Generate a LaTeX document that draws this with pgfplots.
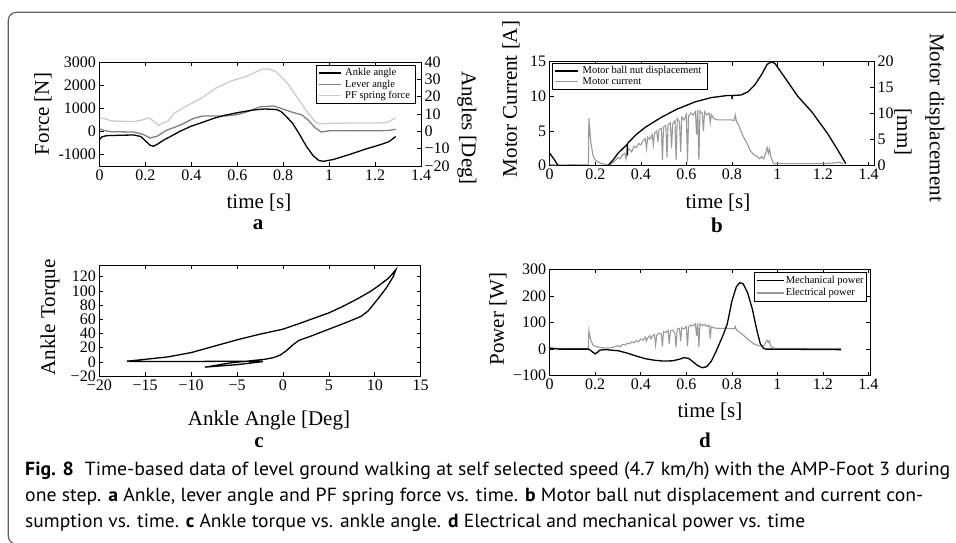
\documentclass[border=0pt]{standalone}
\usepackage{fontspec}
\setmainfont{Liberation Serif}
\newfontfamily\capfont{PT Sans}
\usepackage{graphicx}
\usepackage{pgfplots}
\pgfplotsset{compat=1.18}

\definecolor{lever}{gray}{0.50}
\definecolor{pfforce}{gray}{0.80}
\definecolor{curr}{gray}{0.60}
\definecolor{framegray}{gray}{0.38}

\pgfplotsset{
  every axis/.append style={
    scale only axis,
    anchor=south west,
    /pgf/number format/assume math mode=true,
    tick label style={font=\fontsize{16}{16}\selectfont},
    axis line style={line width=0.8pt},
    every tick/.style={black, line width=0.6pt},
    major tick length=4pt,
    tick align=inside,
    legend image code/.code={\draw[#1] (0pt,0pt) -- (22pt,0pt);},
  },
  mylegend/.style={
    legend cell align=left,
    legend style={draw=black, line width=0.8pt, fill=white, inner sep=1.5pt,
      row sep=-2pt, font=\fontsize{#1}{#1}\selectfont},
  },
  pl/.style={line width=1.3pt},
}
\newcommand{\lab}{\fontsize{21}{21}\selectfont}
\newcommand{\capsize}{\capfont\fontsize{19}{19}\selectfont}

\begin{document}
\begin{tikzpicture}[x=1pt,y=1pt]
\path[use as bounding box] (0,0) rectangle (956,542);
\clip (0,0) rectangle (956,542);
\fill[white] (0,0) rectangle (956,542);
\draw[framegray, line width=1.2pt, rounded corners=8pt] (8.3,-2) rectangle (1000,529.7);

% ---------- a ----------
\begin{axis}[at={(99.5pt,376pt)}, width=321.5pt, height=104pt,
  xmin=0, xmax=1.4, ymin=-1500, ymax=3000,
  xtick={0,0.2,0.4,0.6,0.8,1,1.2,1.4},
  ytick={-1000,0,1000,2000,3000}, yticklabels={-1000,0,1000,2000,3000},
  ytick pos=left]
\addplot[pfforce, pl] coordinates {(0,545) (0.02,560) (0.05,450) (0.15,420)
  (0.19,500) (0.213,580) (0.235,450) (0.257,260) (0.28,380) (0.30,450)
  (0.32,750) (0.37,1050) (0.44,1410) (0.51,1890) (0.58,2200) (0.64,2380)
  (0.67,2520) (0.71,2700) (0.74,2690) (0.77,2570) (0.82,2060) (0.86,1480)
  (0.90,900) (0.94,400) (0.96,330) (1.02,350) (1.1,360) (1.2,360)
  (1.25,380) (1.29,580)};
\end{axis}
\begin{axis}[at={(99.5pt,376pt)}, width=321.5pt, height=104pt,
  xmin=0, xmax=1.4, ymin=-20, ymax=40,
  axis x line=none, axis y line*=right, tick align=inside,
  ytick={-20,-10,0,10,20,30,40}, yticklabels={−20,−10,0,10,20,30,40},
  mylegend=10.5, legend style={at={(0.984,0.975)}, anchor=north east,
    nodes={inner xsep=4pt}, row sep=-1.5pt}]
\addplot[lever, pl, forget plot] coordinates {(0,1.5) (0.02,0.5) (0.05,-0.2)
  (0.15,-0.4) (0.19,-1.8) (0.22,-3.8) (0.25,-2.9) (0.29,0.5) (0.35,3.5)
  (0.41,7.5) (0.45,8.8) (0.55,8.9) (0.60,9.6) (0.65,11.6) (0.70,14.2)
  (0.76,14.6) (0.80,12.8) (0.84,11.0) (0.88,9.5) (0.905,7.0) (0.94,2.0)
  (0.965,-0.4) (1.0,0.3) (1.1,0.4) (1.2,0.3) (1.26,0.5) (1.29,1.2)};
\addplot[black, pl] coordinates {(0,-4.8) (0.01,-3.2) (0.03,-2.5) (0.08,-2.3)
  (0.15,-2.1) (0.18,-3.0) (0.2,-5.5) (0.22,-8.0) (0.235,-8.6) (0.255,-7.2)
  (0.28,-5.0) (0.30,-3.6) (0.33,-1.5) (0.35,0) (0.40,3.0) (0.44,4.8)
  (0.50,7.6) (0.55,9.4) (0.61,11.0) (0.67,12.3) (0.72,12.9) (0.77,12.6)
  (0.79,11.5) (0.81,9.0) (0.84,4.8) (0.87,-1.5) (0.90,-8.5) (0.93,-14.0)
  (0.955,-16.8) (0.975,-17.3) (1.02,-16.2) (1.09,-13.3) (1.16,-10.2)
  (1.23,-7.4) (1.26,-6.0) (1.29,-3.0)};
\addlegendimage{lever, pl}
\addlegendimage{pfforce, pl}
\legend{Ankle angle, Lever angle, PF spring force}
\end{axis}

% ---------- b ----------
\begin{axis}[at={(549.7pt,376.3pt)}, width=324.3pt, height=104pt,
  xmin=0, xmax=1.424, ymin=0, ymax=15,
  xtick={0,0.2,0.4,0.6,0.8,1,1.2,1.4},
  ytick={0,5,10,15}, ytick pos=left]
\addplot[curr, line width=1.1pt] coordinates {(0,0.15) (0.05,0.1) (0.1,0.15)
  (0.15,0.1) (0.17,0.1) (0.172,6.9) (0.18,3.5) (0.19,1.5) (0.20,0.8)
  (0.22,0.4) (0.24,0.2) (0.26,0.1) (0.28,0.5) (0.30,1.2) (0.31,1.0)
  (0.32,1.6) (0.33,1.8) (0.335,1.0) (0.34,2.2) (0.35,2.4) (0.36,2.0)
  (0.37,2.8) (0.38,2.6) (0.39,3.2) (0.40,3.0) (0.41,3.6) (0.42,3.9)
  (0.425,2.5) (0.43,4.1) (0.44,3.8) (0.45,4.5) (0.455,3.0) (0.46,4.6)
  (0.47,5.0) (0.475,3.4) (0.48,5.2) (0.49,5.4) (0.495,0.8) (0.50,5.6)
  (0.51,5.8) (0.515,1.2) (0.52,5.9) (0.53,6.2) (0.535,2.5) (0.54,6.0)
  (0.55,6.5) (0.555,0.8) (0.56,6.8) (0.57,6.3) (0.575,2.0) (0.58,7.0)
  (0.59,6.6) (0.60,7.4) (0.605,0.6) (0.61,7.2) (0.62,7.6) (0.63,7.3)
  (0.64,7.8) (0.645,4.5) (0.65,8.0) (0.655,0.8) (0.66,7.9) (0.67,7.5)
  (0.675,5.0) (0.68,7.8) (0.69,7.3) (0.70,7.6) (0.705,6.2) (0.71,7.4)
  (0.72,6.8) (0.74,6.6) (0.76,6.6) (0.78,6.6) (0.80,6.6) (0.81,6.5)
  (0.815,7.3) (0.82,6.4) (0.83,5.8) (0.84,5.0) (0.85,4.2) (0.86,3.6)
  (0.87,3.0) (0.88,2.2) (0.89,1.8) (0.90,1.5) (0.91,1.4) (0.92,1.0)
  (0.93,1.3) (0.94,1.0) (0.95,2.0) (0.955,2.6) (0.96,1.8) (0.965,2.4)
  (0.97,1.4) (0.98,0.5) (0.99,0.25) (1.0,0.3) (1.1,0.3) (1.2,0.3)
  (1.25,0.4) (1.27,0.5) (1.29,0.3)};
\end{axis}
\begin{axis}[at={(549.7pt,376.3pt)}, width=324.3pt, height=104pt,
  xmin=0, xmax=1.424, ymin=0, ymax=20,
  axis x line=none, axis y line*=right, tick align=inside,
  ytick={0,5,10,15,20},
  legend image code/.code={\draw[#1] (0pt,0pt) -- (23pt,0pt);},
  mylegend=10.5, legend style={at={(0.007,0.99)}, anchor=north west,
    nodes={inner xsep=4.5pt}}]
\addplot[black, pl] coordinates {(0,2.4) (0.02,1.2) (0.037,0) (0.256,0)
  (0.28,1.2) (0.30,2.4) (0.34,4.1) (0.341,2.0) (0.342,4.3) (0.38,6.0)
  (0.42,7.4) (0.49,9.3) (0.56,10.9) (0.64,12.3) (0.71,13.1) (0.78,13.5)
  (0.80,13.5) (0.801,12.8) (0.802,13.5) (0.84,13.6) (0.87,14.2)
  (0.90,15.5) (0.93,17.5) (0.955,19.5) (0.975,20) (0.99,19.6)
  (1.03,17.1) (1.09,13.3) (1.15,10.4) (1.22,6.2) (1.265,3.0) (1.30,0.4)};
\addlegendimage{curr, pl}
\legend{Motor ball nut displacement, Motor current}
\end{axis}

% ---------- c ----------
\begin{axis}[at={(99.3pt,166pt)}, width=321.4pt, height=111pt,
  xmin=-20, xmax=15, ymin=-20, ymax=136.5,
  xtick={-20,-15,-10,-5,0,5,10,15}, xticklabels={−20,−15,−10,−5,0,5,10,15},
  ytick={-20,0,20,40,60,80,100,120}, yticklabels={−20,0,20,40,60,80,100,120}]
\addplot[black, pl] coordinates {(-2.2,0.3) (-5,-4) (-8.5,-7.5) (-8.0,-6.5)
  (-6,-2) (-3.5,1.5) (-2.0,3.5) (-1.0,6) (-0.3,9.5) (0.4,16) (1,23)
  (1.7,30) (3,36) (5,46) (7,56) (8.5,64) (9.3,72) (10.3,88) (11.3,105)
  (12.0,120) (12.3,130) (11.5,118) (10.5,108) (9.5,99) (8,88) (6.5,78)
  (5,69) (3.5,62) (2,55) (0,46) (-2.5,39) (-5,31) (-7.5,22) (-10,13)
  (-12.5,7) (-15,3.5) (-16.5,1.5) (-17,1) (-16.5,0.4) (-10,0.5) (-5,0.8)
  (-2.2,0.5)};
\end{axis}

% ---------- d ----------
\begin{axis}[at={(549.7pt,166.3pt)}, width=320.6pt, height=106.4pt,
  xmin=0, xmax=1.408, ymin=-100, ymax=300,
  xtick={0,0.2,0.4,0.6,0.8,1,1.2,1.4},
  ytick={-100,0,100,200,300}, yticklabels={−100,0,100,200,300},
  legend image code/.code={\draw[#1] (0pt,0pt) -- (27pt,0pt);},
  mylegend=10.5, legend style={at={(0.99,0.975)}, anchor=north east,
    nodes={inner xsep=1.5pt}, row sep=0pt}]
\addplot[curr, line width=1.1pt, forget plot] coordinates {(0,3) (0.05,2)
  (0.1,3) (0.17,3) (0.172,69) (0.18,35) (0.19,15) (0.2,10) (0.22,6)
  (0.25,4) (0.27,5) (0.29,10) (0.30,13) (0.31,9) (0.32,18) (0.33,15)
  (0.34,22) (0.35,20) (0.36,27) (0.37,24) (0.38,32) (0.39,28) (0.40,38)
  (0.41,33) (0.42,45) (0.425,30) (0.43,42) (0.44,50) (0.445,38) (0.45,48)
  (0.46,55) (0.465,15) (0.47,52) (0.48,60) (0.49,58) (0.495,10) (0.50,65)
  (0.51,62) (0.52,70) (0.525,20) (0.53,68) (0.54,72) (0.55,60) (0.555,8)
  (0.56,75) (0.57,78) (0.575,30) (0.58,80) (0.59,76) (0.60,85) (0.605,10)
  (0.61,82) (0.62,90) (0.63,88) (0.64,95) (0.645,50) (0.65,97) (0.655,8)
  (0.66,95) (0.67,88) (0.68,93) (0.69,85) (0.70,90) (0.705,40) (0.71,85)
  (0.72,80) (0.74,78) (0.76,78) (0.78,78) (0.80,78) (0.81,76) (0.815,85)
  (0.82,72) (0.84,60) (0.86,45) (0.88,30) (0.90,18) (0.92,12) (0.94,12)
  (0.95,28) (0.955,33) (0.96,25) (0.965,30) (0.97,12) (0.98,5) (0.99,3)
  (1.0,3) (1.28,3)};
\addplot[black, pl] coordinates {(0,4) (0.02,2) (0.04,0) (0.17,0) (0.18,-5)
  (0.19,-12) (0.20,-18) (0.21,-12) (0.22,-4) (0.24,-2) (0.26,-3) (0.30,-6)
  (0.34,-15) (0.38,-26) (0.42,-36) (0.46,-42) (0.50,-45) (0.54,-44)
  (0.57,-38) (0.59,-32) (0.61,-35) (0.63,-48) (0.65,-62) (0.67,-70)
  (0.69,-66) (0.71,-45) (0.73,-10) (0.75,30) (0.765,60) (0.78,95)
  (0.80,180) (0.82,235) (0.835,250) (0.85,245) (0.87,210) (0.89,150)
  (0.91,70) (0.925,20) (0.94,2) (0.95,0) (1.28,-2)};
\addlegendimage{curr, pl}
\legend{Mechanical power, Electrical power}
\end{axis}

% ---------- labels ----------
\node[font=\lab, rotate=90] at (43,428) {Force [N]};
\node[font=\lab, rotate=-90] at (467,414) {Angles [Deg]};
\node[font=\lab] at (259,339) {time [s]};
\node[font=\lab\bfseries] at (258,317) {a};

\node[font=\lab, rotate=90] at (511,443) {Motor Current [A]};
\node[font=\lab, rotate=-90] at (935,424.4) {Motor displacement};
\node[font=\lab, rotate=-90] at (903,410) {[mm]};
\node[font=\lab] at (718,339) {time [s]};
\node[font=\lab\bfseries] at (717,317) {b};

\node[font=\lab, rotate=90] at (50,224.5) {Ankle Torque};
\node[font=\lab] at (269,122) {Ankle Angle [Deg]};
\node[font=\lab\bfseries] at (259,99) {c};

\node[font=\lab, rotate=90] at (498,223) {Power [W]};
\node[font=\lab] at (710,130) {time [s]};
\node[font=\lab\bfseries] at (705,102) {d};

% ---------- caption ----------
\begin{scope}[every node/.style={anchor=base west, inner sep=0pt, font=\capsize}]
\node at (25,67) {\resizebox{925pt}{\height}{\textbf{Fig. 8}\hspace{0.55em}Time-based data of level ground walking at self selected speed (4.7 km/h) with the AMP-Foot 3 during}};
\node at (25,40.5) {\resizebox{898pt}{\height}{one step. \textbf{a} Ankle, lever angle and PF spring force vs. time. \textbf{b} Motor ball nut displacement and current con-}};
\node at (25,14.5) {\resizebox{780pt}{\height}{sumption vs. time. \textbf{c} Ankle torque vs. ankle angle. \textbf{d} Electrical and mechanical power vs. time}};
\end{scope}
\end{tikzpicture}
\end{document}
